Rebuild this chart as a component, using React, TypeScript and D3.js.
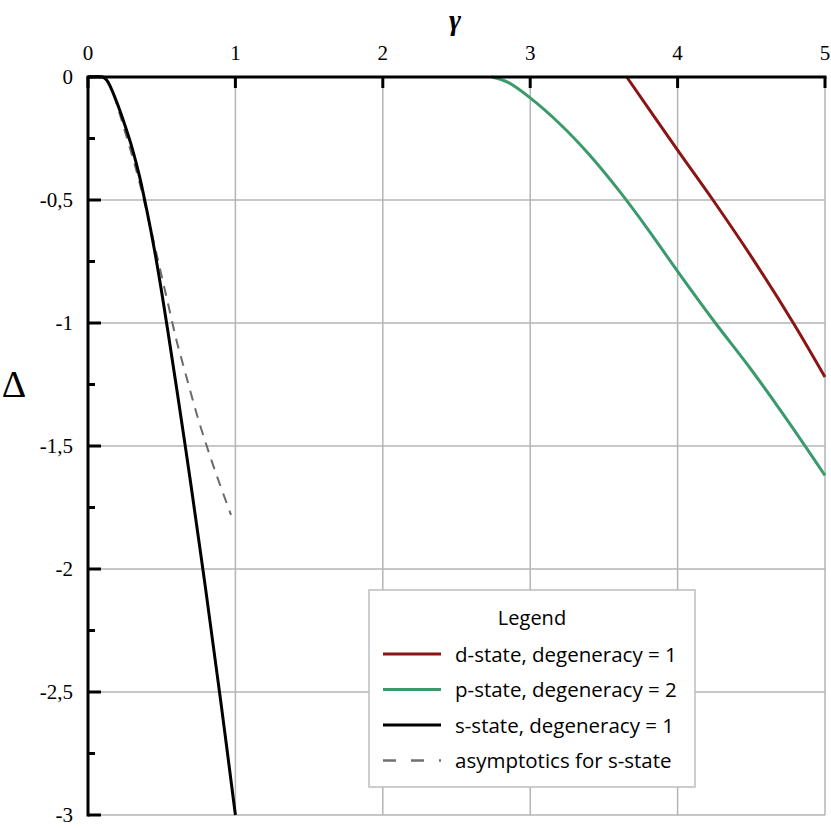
import React from 'react';
import * as d3 from 'd3';

// s-state, degeneracy = 1
const sGamma = [0, 0.1, 0.13, 0.16, 0.2, 0.25, 0.3, 0.35, 0.4, 0.45, 0.5, 0.55, 0.6, 0.65, 0.7, 0.8, 0.9, 1.0];
const sDelta = [0, 0, -0.015, -0.05, -0.11, -0.195, -0.29, -0.405, -0.545, -0.7, -0.875, -1.065, -1.26, -1.46, -1.665, -2.09, -2.535, -3.0];

// asymptotics for s-state
const aGamma = [0, 0.1, 0.15, 0.2, 0.25, 0.3, 0.35, 0.4, 0.45, 0.5, 0.55, 0.6, 0.65, 0.7, 0.75, 0.8, 0.85, 0.9, 0.97];
const aDelta = [0, 0, -0.035, -0.12, -0.22, -0.32, -0.43, -0.55, -0.68, -0.81, -0.94, -1.07, -1.18, -1.29, -1.395, -1.49, -1.58, -1.665, -1.78];

// p-state, degeneracy = 2
const pGamma = [2.74, 2.85, 3.0, 3.2, 3.4, 3.6, 3.8, 4.0, 4.25, 4.5, 4.75, 5.0];
const pDelta = [0, -0.022, -0.085, -0.19, -0.315, -0.46, -0.62, -0.79, -0.995, -1.19, -1.4, -1.62];

// d-state, degeneracy = 1
const dGamma = [3.655, 4.0, 4.24, 4.5, 4.785, 5.0];
const dDelta = [0, -0.297, -0.5, -0.73, -1.0, -1.22];

const xTicks = [0, 1, 2, 3, 4, 5];
const xTickLabels = ['0', '1', '2', '3', '4', '5'];
const yTicks = [0, -0.5, -1, -1.5, -2, -2.5, -3];
const yTickLabels = ['0', '-0,5', '-1', '-1,5', '-2', '-2,5', '-3'];
const yMinorTicks = [-0.25, -0.75, -1.25, -1.75, -2.25, -2.75];

const legendLabels = [
  'd-state, degeneracy = 1',
  'p-state, degeneracy = 2',
  's-state, degeneracy = 1',
  'asymptotics for s-state',
];

const RED = '#8b1414';
const GREEN = '#3b9a6b';
const GRID = '#b4b4b4';
const SERIF = '"Liberation Serif", "Times New Roman", serif';
const SANS = '"Open Sans", "Noto Sans", sans-serif';

export default function App() {
  const width = 831;
  const height = 828;
  const x = d3.scaleLinear().domain([0, 5]).range([88, 825]);
  const y = d3.scaleLinear().domain([-3, 0]).range([815, 77]);

  const line = d3
    .line<[number, number]>()
    .x((d) => x(d[0]))
    .y((d) => y(d[1]))
    .curve(d3.curveCatmullRom.alpha(0.5));

  const zip = (a: number[], b: number[]) => a.map((v, i) => [v, b[i]] as [number, number]);

  const series = [
    { pts: zip(dGamma, dDelta), color: RED, dash: undefined as string | undefined, w: 3 },
    { pts: zip(pGamma, pDelta), color: GREEN, dash: undefined, w: 3 },
    { pts: zip(aGamma, aDelta), color: '#6a6a6a', dash: '10,8', w: 2 },
    { pts: zip(sGamma, sDelta), color: '#000', dash: undefined, w: 3 },
  ];

  const legendItems = [
    { color: RED, dash: undefined as string | undefined, w: 3 },
    { color: GREEN, dash: undefined, w: 3 },
    { color: '#000', dash: undefined, w: 3 },
    { color: '#707070', dash: '13,15', w: 2.5 },
  ];

  const lx = 369, ly = 590, lw = 326, lh = 197;

  return (
    <svg
      width={width}
      height={height}
      style={{ position: 'absolute', left: 0, top: 0, background: '#fff' }}
    >
      <rect x={0} y={0} width={width} height={height} fill="#fff" />

      {/* grid */}
      {xTicks.slice(1).map((t) => (
        <line key={'gx' + t} x1={x(t)} x2={x(t)} y1={y(0)} y2={y(-3)} stroke={GRID} strokeWidth={1.5} />
      ))}
      {yTicks.slice(1).map((t) => (
        <line key={'gy' + t} x1={x(0)} x2={x(5)} y1={y(t)} y2={y(t)} stroke={GRID} strokeWidth={1.5} />
      ))}

      {/* curves */}
      {series.map((s, i) => (
        <path
          key={'s' + i}
          d={line(s.pts) || ''}
          fill="none"
          stroke={s.color}
          strokeWidth={s.w}
          strokeDasharray={s.dash}
        />
      ))}

      {/* axes */}
      <line x1={x(0) - 1.5} x2={x(5) + 1.5} y1={y(0)} y2={y(0)} stroke="#000" strokeWidth={3} />
      <line x1={x(0)} x2={x(0)} y1={y(0)} y2={y(-3) + 1.5} stroke="#000" strokeWidth={3} />
      {xTicks.map((t) => (
        <line key={'tx' + t} x1={x(t)} x2={x(t)} y1={y(0)} y2={y(0) + 11} stroke="#000" strokeWidth={3} />
      ))}
      {yTicks.map((t) => (
        <line key={'ty' + t} x1={x(0)} x2={x(0) + 13} y1={y(t)} y2={y(t)} stroke="#000" strokeWidth={3} />
      ))}
      {yMinorTicks.map((t) => (
        <line key={'tm' + t} x1={x(0)} x2={x(0) + 7} y1={y(t)} y2={y(t)} stroke="#000" strokeWidth={3} />
      ))}

      {/* tick labels */}
      {xTicks.map((t, i) => (
        <text key={'lx' + t} x={x(t)} y={60} textAnchor="middle" fontFamily={SERIF} fontSize={21}>
          {xTickLabels[i]}
        </text>
      ))}
      {yTicks.map((t, i) => (
        <text
          key={'ly' + t}
          x={73}
          y={y(t)}
          dy="0.35em"
          textAnchor="end"
          fontFamily={SERIF}
          fontSize={21}
        >
          {yTickLabels[i]}
        </text>
      ))}

      {/* axis titles */}
      <text x={455} y={30} textAnchor="middle" fontFamily={SERIF} fontSize={29} fontWeight="bold" fontStyle="italic">
        γ
      </text>
      <text x={14} y={397} textAnchor="middle" fontFamily={SERIF} fontSize={38}>
        Δ
      </text>

      {/* legend */}
      <rect x={lx} y={ly} width={lw} height={lh} fill="#fff" stroke="#bdbdbd" strokeWidth={1.5} />
      <text x={532} y={625} textAnchor="middle" fontFamily={SANS} fontSize={20}>
        Legend
      </text>
      {legendLabels.map((label, i) => {
        const yy = 654 + i * 35.5;
        const it = legendItems[i];
        return (
          <g key={'lg' + i}>
            <line x1={383} x2={441} y1={yy} y2={yy} stroke={it.color} strokeWidth={it.w} strokeDasharray={it.dash} />
            <text x={455} y={yy + 7.5} fontFamily={SANS} fontSize={20.5}>
              {label}
            </text>
          </g>
        );
      })}
    </svg>
  );
}
